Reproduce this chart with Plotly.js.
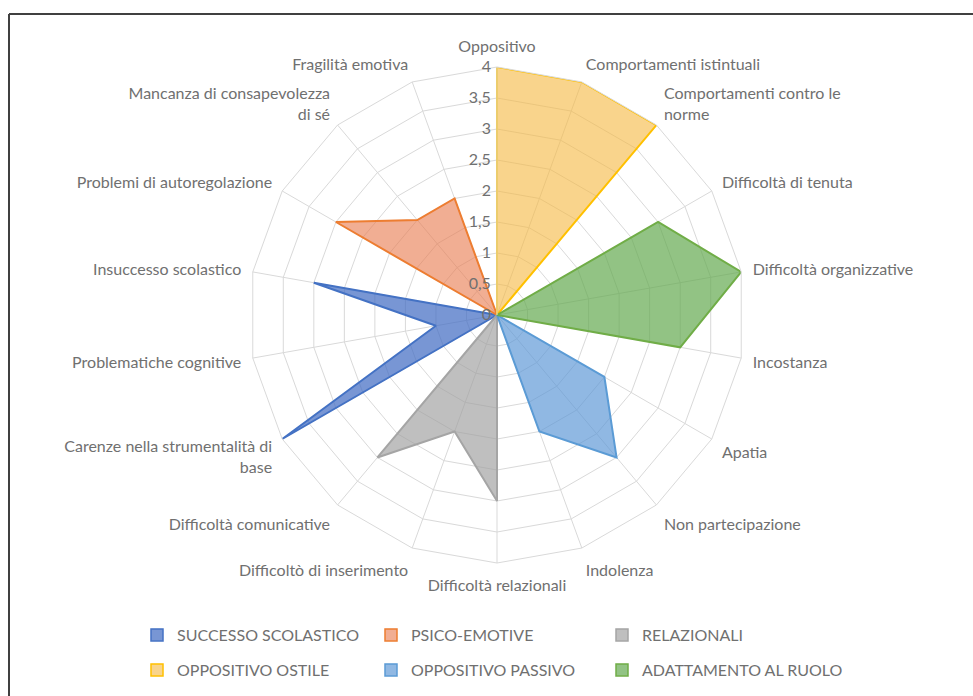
<!DOCTYPE html>
<html>
<head>
<meta charset="utf-8">
<script src="https://cdn.plot.ly/plotly-3.0.1.min.js"></script>
<style>
  html, body { margin: 0; padding: 0; background: #fff; }
  #chart { width: 973px; height: 696px; }
</style>
</head>
<body>
<div id="chart"></div>
<script>
var categories = [
  "Oppositivo", "Comportamenti istintuali", "Comportamenti contro le<br>norme",
  "Difficoltà di tenuta", "Difficoltà organizzative", "Incostanza",
  "Apatia", "Non partecipazione", "Indolenza",
  "Difficoltà relazionali", "Difficoltò di inserimento", "Difficoltà comunicative",
  "Carenze nella strumentalità di<br>base", "Problematiche cognitive", "Insuccesso scolastico",
  "Problemi di autoregolazione", "Mancanza di consapevolezza<br>di sé", "Fragilità emotiva"
];

var successoScolastico = [0,0,0, 0,0,0, 0,0,0, 0,0,0, 4,1,3, 0,0,0];
var psicoEmotive       = [0,0,0, 0,0,0, 0,0,0, 0,0,0, 0,0,0, 3,2,2];
var relazionali        = [0,0,0, 0,0,0, 0,0,0, 3,2,3, 0,0,0, 0,0,0];
var oppositivoOstile   = [4,4,4, 0,0,0, 0,0,0, 0,0,0, 0,0,0, 0,0,0];
var oppositivoPassivo  = [0,0,0, 0,0,0, 2,3,2, 0,0,0, 0,0,0, 0,0,0];
var adattamentoRuolo   = [0,0,0, 3,4,3, 0,0,0, 0,0,0, 0,0,0, 0,0,0];

var seriesNames = ["SUCCESSO SCOLASTICO", "PSICO-EMOTIVE", "RELAZIONALI",
                   "OPPOSITIVO OSTILE", "OPPOSITIVO PASSIVO", "ADATTAMENTO AL RUOLO"];
var seriesValues = [successoScolastico, psicoEmotive, relazionali,
                    oppositivoOstile, oppositivoPassivo, adattamentoRuolo];
var lineColors = ["#4472C4", "#ED7D31", "#A5A5A5", "#FFC000", "#5B9BD5", "#70AD47"];
var fillColors = ["rgba(68,110,196,0.72)", "rgba(233,125,80,0.62)", "rgba(160,160,160,0.68)",
                  "rgba(245,185,70,0.62)", "rgba(91,150,213,0.68)", "rgba(100,170,80,0.70)"];

// legend key positions (left edge of each legend box, px) - 3 columns x 2 rows
var legendX = [137, 371, 602, 137, 371, 602];
var legendY = [635, 635, 635, 670, 670, 670];

var data = [];
// filled polygons
seriesValues.forEach(function(vals, i) {
  data.push({
    type: "scatterpolar",
    r: vals.concat([vals[0]]),
    theta: categories.concat([categories[0]]),
    name: seriesNames[i],
    legendgroup: seriesNames[i],
    showlegend: false,
    mode: "lines",
    fill: "toself",
    fillcolor: fillColors[i],
    line: { color: lineColors[i], width: 2 },
    hoverinfo: "name+r+theta"
  });
});

var grid = "#d9d9d9";
var txt = "#707070";
var fnt = "Lato, 'Open Sans', sans-serif";

var layout = {
  width: 973,
  height: 696,
  margin: { l: 0, r: 0, t: 0, b: 0 },
  paper_bgcolor: "#fff",
  separators: ",.",
  font: { family: fnt, color: txt, size: 15 },
  showlegend: true,
  polar: {
    domain: { x: [249 / 973, 745 / 973], y: [1 - 563 / 696, 1 - 67 / 696] },
    gridshape: "linear",
    bgcolor: "#fff",
    radialaxis: {
      range: [0, 4],
      dtick: 0.5,
      angle: 90,
      tickangle: 90,
      side: "counterclockwise",
      showline: true,
      linecolor: grid,
      gridcolor: grid,
      ticks: "",
      tickfont: { size: 16, color: txt }
    },
    angularaxis: {
      direction: "clockwise",
      rotation: 90,
      linecolor: grid,
      gridcolor: grid,
      ticks: "outside",
      ticklen: 8,
      tickcolor: "rgba(0,0,0,0)",
      tickfont: { size: 16, color: txt }
    }
  },
  shapes: [
    { type: "line", xref: "paper", yref: "paper", x0: 9 / 973, x1: 1, y0: 1 - 14 / 696, y1: 1 - 14 / 696,
      line: { color: "#404040", width: 2 } },
    { type: "line", xref: "paper", yref: "paper", x0: 9 / 973, x1: 9 / 973, y0: 0, y1: 1 - 14 / 696,
      line: { color: "#404040", width: 2 } }
  ]
};

// square legend keys, one small legend per entry
seriesNames.forEach(function(name, i) {
  var key = i === 0 ? "legend" : "legend" + (i + 1);
  data.push({
    type: "scatterpolar",
    r: [null],
    theta: [null],
    name: name,
    legendgroup: name,
    mode: "markers",
    marker: { symbol: "square", size: 12, color: fillColors[i], line: { color: lineColors[i], width: 1.5 } },
    legend: key,
    hoverinfo: "skip"
  });
  layout[key] = {
    x: legendX[i] / 973, xanchor: "left",
    y: 1 - legendY[i] / 696, yanchor: "middle",
    itemwidth: 30,
    bgcolor: "rgba(0,0,0,0)",
    font: { size: 16, color: txt }
  };
});

Plotly.newPlot("chart", data, layout, { displayModeBar: false });
</script>
</body>
</html>
